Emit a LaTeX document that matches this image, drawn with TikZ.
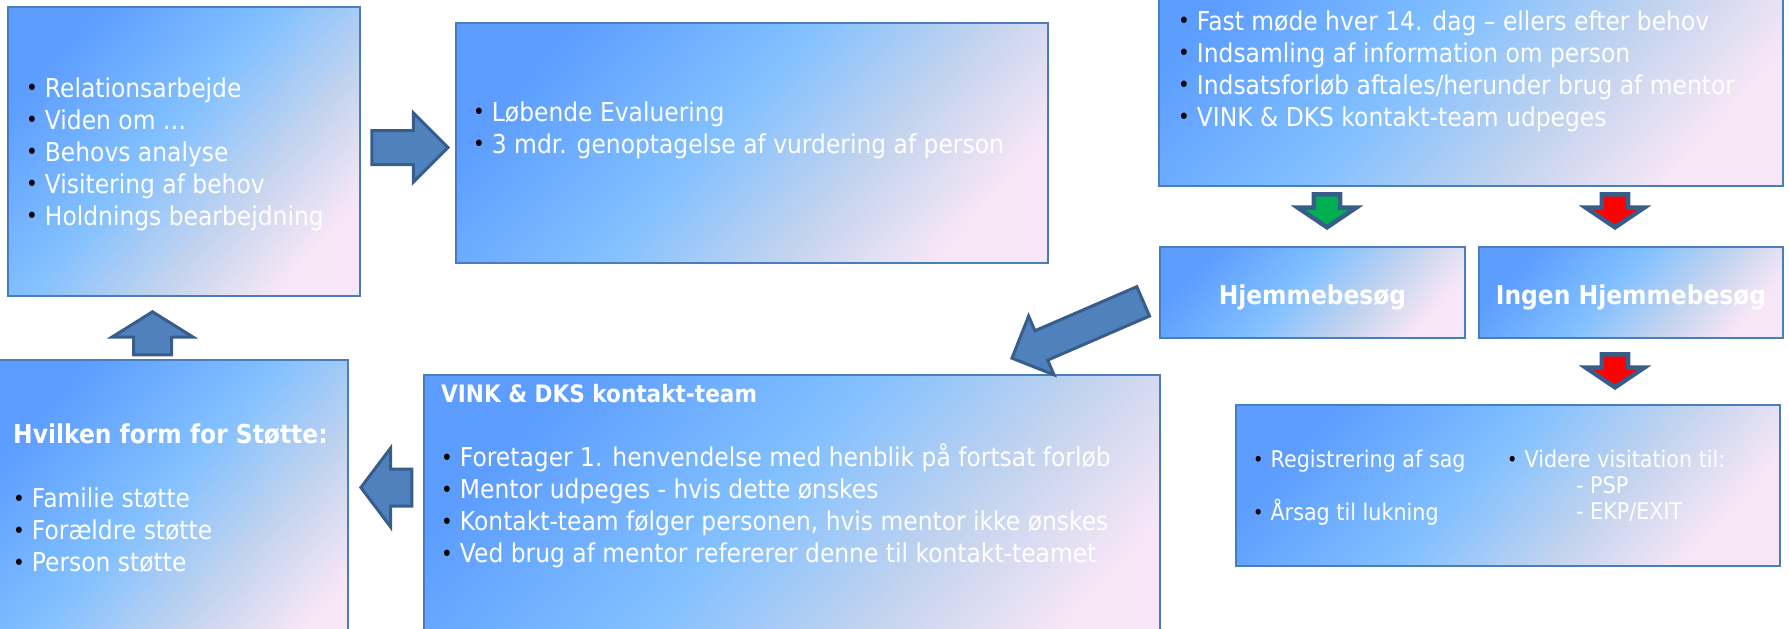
\documentclass[tikz,border=0pt]{standalone}
\usepackage{fontspec}
\setmainfont{DejaVu Sans}[FakeStretch=0.9]
\usepackage{xcolor}
\usepackage{graphicx}
\usetikzlibrary{positioning,shapes.arrows}

\definecolor{boxA}{RGB}{92,157,255}
\definecolor{boxB}{RGB}{130,192,255}
\definecolor{boxG}{RGB}{196,212,238}
\definecolor{boxC}{RGB}{246,230,246}
\definecolor{boxline}{RGB}{74,126,187}
\definecolor{arrowfill}{RGB}{79,129,189}
\definecolor{arrowline}{RGB}{56,93,138}
\definecolor{gogreen}{RGB}{0,176,80}
\definecolor{stopred}{RGB}{255,0,0}

\pgfdeclarehorizontalshading{panelshade}{100bp}{color(0bp)=(boxA); color(25bp)=(boxA); color(46bp)=(boxB); color(62bp)=(boxG); color(75bp)=(boxC); color(100bp)=(boxC)}

\newcommand{\basefont}{\fontsize{26}{32}\selectfont}
\newcommand{\smallbase}{\fontsize{23}{26}\selectfont}
\newcommand{\bul}{\textcolor{black}{\raisebox{1.2pt}{\scalebox{0.85}{\textbullet}}}\hspace{7pt}}

\tikzset{
  panel/.style={draw=boxline, line width=2pt, shade, shading=panelshade, shading angle=-42, inner sep=0pt},
  headpanel/.style={panel, font=\basefont\bfseries, text=white, text height=26pt, text depth=2pt},
  txt/.style={text=white, align=left, inner sep=0pt, anchor=west, font=\basefont},
  blockarrow/.style={single arrow, draw=arrowline, fill=arrowfill, line width=3pt, inner xsep=0pt, anchor=tip},
  signal/.style={blockarrow, line width=4.5pt, rotate=-90, minimum height=33pt, inner ysep=10.8pt, single arrow head extend=16pt, single arrow tip angle=112},
}

\begin{document}
\begin{tikzpicture}[x=1pt,y=-1pt]
\useasboundingbox (0,0) rectangle (1789,629);

% boxes
\node[panel, minimum width=352pt, minimum height=289pt] (relation) at (184,151.5) {};
\node[panel, minimum width=592pt, minimum height=240pt] (evaluering) at (752,143) {};
\node[panel, minimum width=624pt, minimum height=256pt] (moede) at (1471,58) {};
\node[headpanel, minimum width=305pt, minimum height=91pt] (hjemme) at (1312.5,292.5) {Hjemmebesøg};
\node[headpanel, minimum width=304pt, minimum height=91pt] (ingen) at (1631,292.5) {Ingen Hjemmebesøg};
\node[panel, minimum width=544pt, minimum height=161pt] (lukning) at (1508,485.5) {};
\node[panel, minimum width=736pt, minimum height=305pt] (kontakt) at (792,527.5) {};
\node[panel, minimum width=353pt, minimum height=320pt] (stoette) at (171.5,520) {};

% texts
\node[txt] (relationTxt) at (26,154) {\bul Relationsarbejde\\ \bul Viden om …\\ \bul Behovs analyse\\ \bul Visitering af behov\\ \bul Holdnings bearbejdning};
\node[txt] (evalTxt) at (473,130) {\bul Løbende Evaluering\\ \bul 3 mdr. genoptagelse af vurdering af person};
\node[txt] (moedeTxt) at (1178,71) {\bul Fast møde hver 14. dag – ellers efter behov\\ \bul Indsamling af information om person\\ \bul Indsatsforløb aftales/herunder brug af mentor\\ \bul VINK \& DKS kontakt-team udpeges};
\node[txt, font=\smallbase] (lukLeft) at (1253,488) {\bul Registrering af sag\\[26pt] \bul Årsag til lukning};
\node[txt, font=\smallbase] (lukRight) at (1507,486) {\bul Videre visitation til:\\ \hspace{69pt}- PSP\\ \hspace{69pt}- EKP/EXIT};
\node[txt] (kontaktTxt) at (441,476) {{\fontsize{24}{32}\selectfont\bfseries VINK \& DKS kontakt-team}\\[32pt] \bul Foretager 1. henvendelse med henblik på fortsat forløb\\ \bul Mentor udpeges - hvis dette ønskes\\ \bul Kontakt-team følger personen, hvis mentor ikke ønskes\\ \bul Ved brug af mentor refererer denne til kontakt-teamet};
\node[txt] (stoetteTxt) at (13,498) {\textbf{Hvilken form for Støtte:}\\[32pt] \bul Familie støtte\\ \bul Forældre støtte\\ \bul Person støtte};

% arrows
\node[blockarrow, minimum height=76pt, inner ysep=15.5pt, single arrow head extend=17.5pt] (relEval) at (450,147.5) {};
\node[blockarrow, rotate=90, minimum height=43pt, inner ysep=17.5pt, single arrow head extend=21.5pt, single arrow tip angle=116] (stoetteRel) at (152.5,310) {};
\node[blockarrow, rotate=180, minimum height=51pt, inner ysep=17pt, single arrow head extend=21pt, single arrow tip angle=106] (kontaktStoette) at (359,487.5) {};
\node[blockarrow, rotate=203.4, minimum height=143pt, inner ysep=14.5pt, single arrow head extend=16pt] (hjemmeKontakt) at (1010,359) {};
\node[signal, fill=gogreen] (moedeHjemme) at (1327,230) {};
\node[signal, fill=stopred] (moedeIngen) at (1615,230) {};
\node[signal, fill=stopred] (ingenLuk) at (1615,390) {};
\end{tikzpicture}
\end{document}
